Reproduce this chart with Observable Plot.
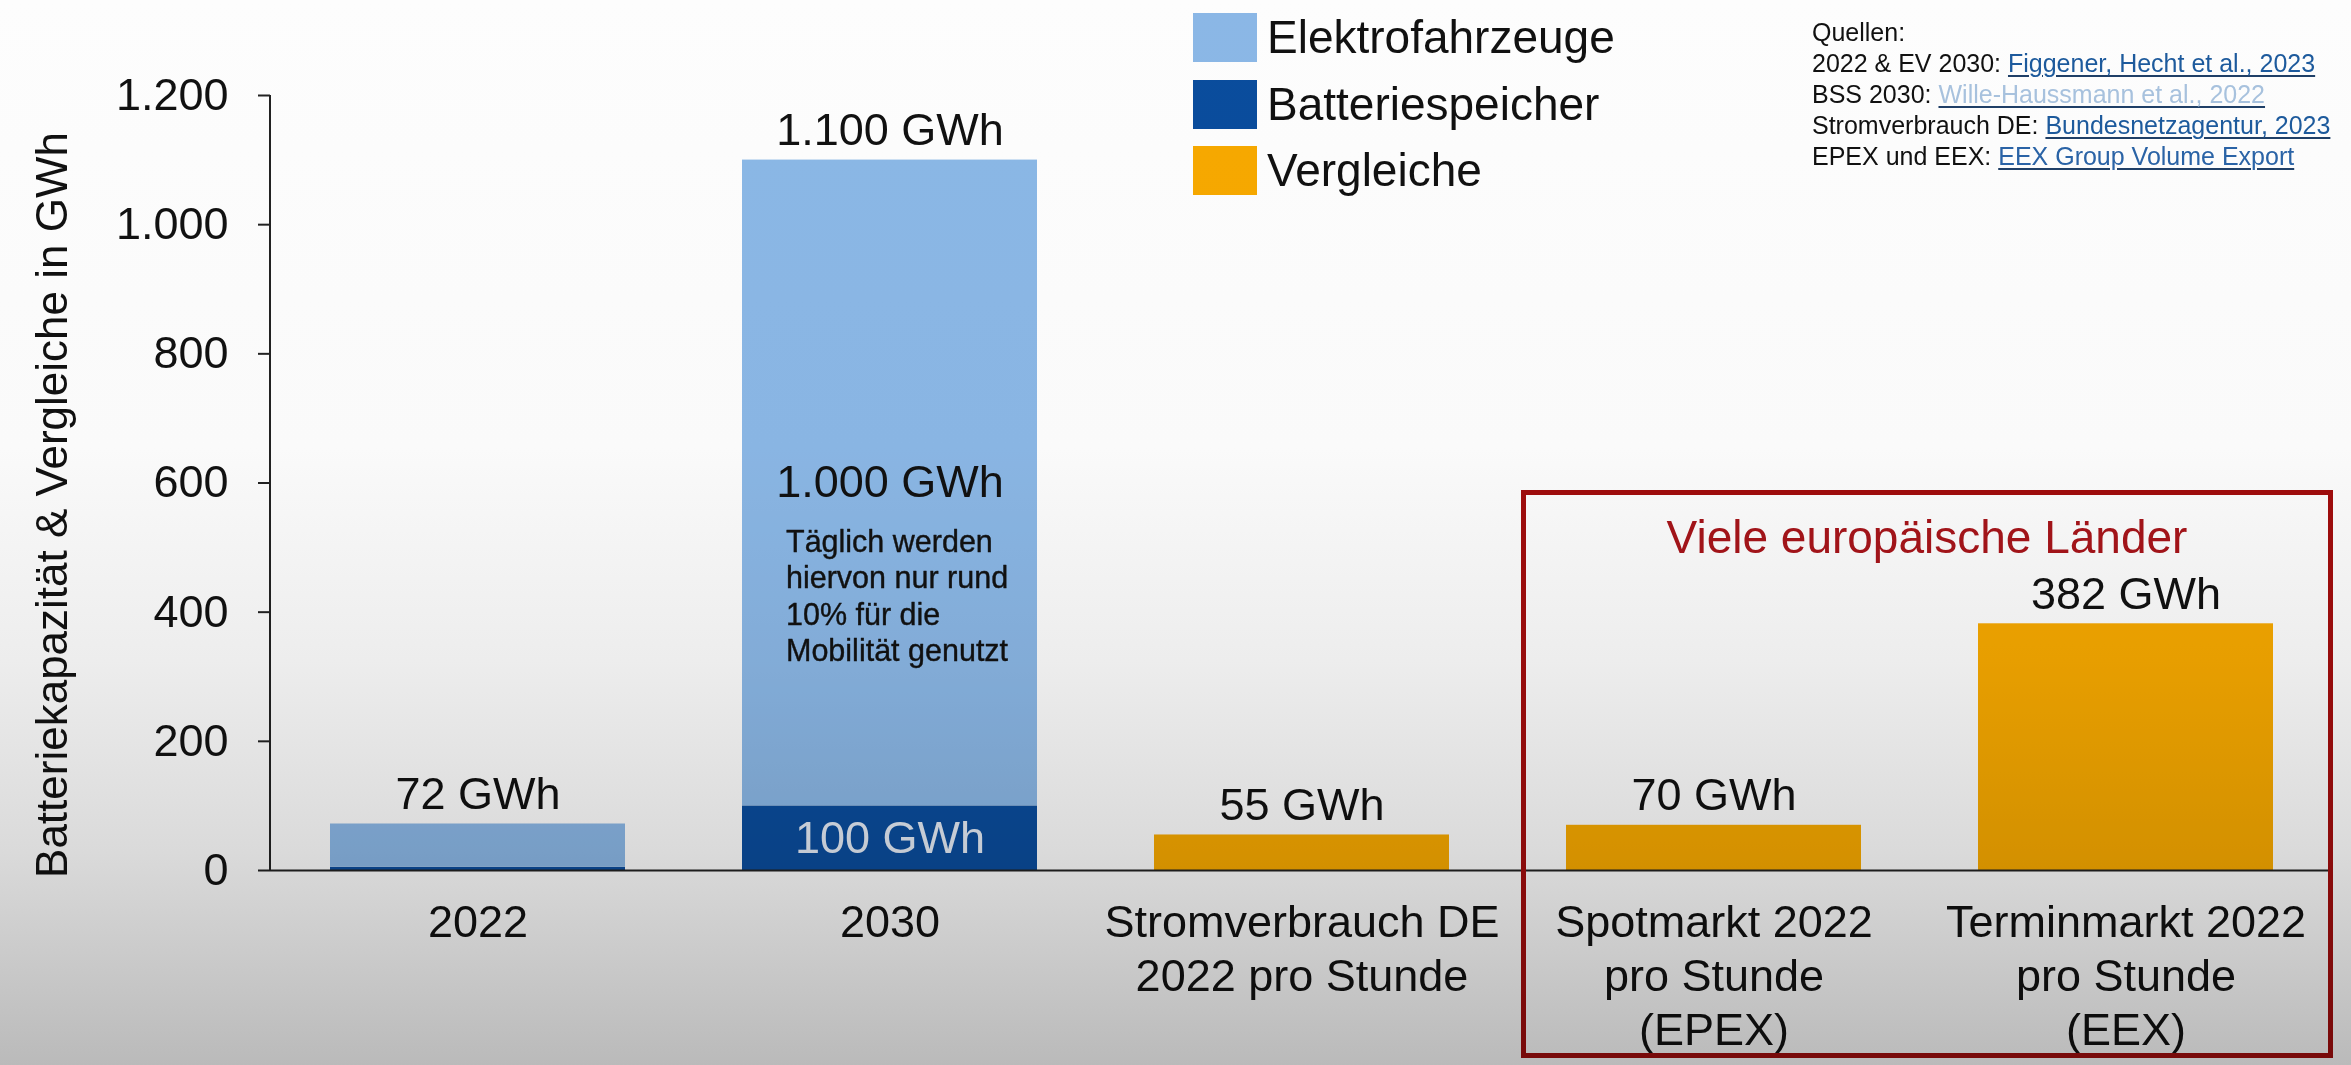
<!DOCTYPE html>
<html lang="de">
<head>
<meta charset="utf-8">
<script src="https://cdn.jsdelivr.net/npm/d3@7"></script>
<script src="https://cdn.jsdelivr.net/npm/@observablehq/plot@0.6"></script>
<style>
  html, body { margin: 0; padding: 0; background: #ffffff; }
  #page { position: relative; width: 2351px; height: 1065px; overflow: hidden; background: #ffffff;
          font-family: "Liberation Sans", Arial, Helvetica, sans-serif; color: #111; }
  #chart svg { position: absolute; left: 0; top: 0; }
  #legend { position: absolute; left: 1193px; top: 13px; }
  .lg-row { display: flex; align-items: center; height: 49px; margin-bottom: 17.5px; }
  .lg-sw { width: 64px; height: 49px; margin-right: 10px; }
  .lg-tx { font-size: 46px; line-height: 49px; color: #111; }
  #sources { position: absolute; left: 1812px; top: 17px; font-size: 25px; line-height: 31px; color: #111; }
  #sources a { text-decoration: underline; text-decoration-thickness: 2px; text-underline-offset: 3px;
               text-decoration-color: #1f3f68; }
  #box { position: absolute; left: 1521px; top: 490px; width: 812px; height: 568px; box-sizing: border-box;
         border: 5px solid #a30d0d; }
  #box .title { position: absolute; left: 0; right: 0; top: 15px; text-align: center; font-size: 46px;
                color: #a8141a; line-height: 54px; }
  #shade { position: absolute; left: 0; top: 0; width: 2351px; height: 1065px; pointer-events: none;
           mix-blend-mode: multiply;
           background: linear-gradient(to bottom, #fdfdfd 0%, #fafafa 42%, #ededed 62%, #dadada 80%, #bababa 100%); }
</style>
</head>
<body>
<div id="page">
  <div id="chart"></div>
  <div id="legend"></div>
  <div id="sources"></div>
  <div id="box"><div class="title"></div></div>
  <div id="shade"></div>
</div>
<script>
// ---------- data ----------
const categories = ["2022", "2030", "Stromverbrauch", "Spotmarkt", "Terminmarkt"];
const tickLabels = ["2022", "2030", "Stromverbrauch DE\n2022 pro Stunde", "Spotmarkt 2022\npro Stunde\n(EPEX)", "Terminmarkt 2022\npro Stunde\n(EEX)"];
const seriesNames = ["Elektrofahrzeuge", "Batteriespeicher", "Vergleiche"];
const seriesColors = ["#8cb9e8", "#0a4d9e", "#f9aa00"];
const batteriespeicher = [5, 100, 0, 0, 0];
const elektrofahrzeuge = [67, 1000, 0, 0, 0];
const vergleiche = [0, 0, 55, 70, 382];
const yTicks = [0, 200, 400, 600, 800, 1000, 1200];
const yTitle = "Batteriekapazität & Vergleiche in GWh";
const noteText = "Täglich werden\nhiervon nur rund\n10% für die\nMobilität genutzt";
const boxTitle = "Viele europäische Länder";
const sourceLabels = ["2022 & EV 2030: ", "BSS 2030: ", "Stromverbrauch DE: ", "EPEX und EEX: "];
const sourceLinks = ["Figgener, Hecht et al., 2023", "Wille-Haussmann et al., 2022", "Bundesnetzagentur, 2023", "EEX Group Volume Export"];
const sourceColors = ["#1d5b9e", "#a9c4e0", "#1d5b9e", "#2a64a8"];

// ---------- derived tables ----------
const fmt = d3.formatLocale({decimal: ",", thousands: ".", grouping: [3], currency: ["", " €"]}).format(",d");
const stackOrder = [["Batteriespeicher", batteriespeicher], ["Elektrofahrzeuge", elektrofahrzeuge], ["Vergleiche", vergleiche]];
const rows = [];
for (const [name, vals] of stackOrder) {
  categories.forEach((c, i) => { if (vals[i] > 0) rows.push({cat: c, series: name, value: vals[i]}); });
}
const totals = categories.map((c, i) => ({cat: c, total: batteriespeicher[i] + elektrofahrzeuge[i] + vergleiche[i]}));
const i30 = categories.indexOf("2030");
const inside = [
  {cat: "2030", y: batteriespeicher[i30] + elektrofahrzeuge[i30] / 2, text: fmt(elektrofahrzeuge[i30]) + " GWh", fill: "#111111"},
  {cat: "2030", y: batteriespeicher[i30] / 2, text: fmt(batteriespeicher[i30]) + " GWh", fill: "#e6edf7"}
];
const labelOf = new Map(categories.map((c, i) => [c, tickLabels[i]]));

// custom axis line (vertical)
function yAxisLine(index, scales, values, dims) {
  const ns = "http://www.w3.org/2000/svg";
  const l = document.createElementNS(ns, "line");
  l.setAttribute("x1", dims.marginLeft); l.setAttribute("x2", dims.marginLeft);
  l.setAttribute("y1", dims.marginTop); l.setAttribute("y2", dims.height - dims.marginBottom);
  l.setAttribute("stroke", "#222"); l.setAttribute("stroke-width", 2);
  return l;
}

const plot = Plot.plot({
  width: 2351,
  height: 1065,
  marginLeft: 270,
  marginRight: 18,
  marginTop: 95,
  marginBottom: 195,
  style: {fontFamily: "'Liberation Sans', Arial, Helvetica, sans-serif", fontSize: "45px", background: "transparent", color: "#111"},
  x: {domain: categories, paddingInner: 0.285, paddingOuter: 0.1425, axis: null},
  y: {domain: [0, 1200], axis: null},
  color: {domain: seriesNames, range: seriesColors},
  marks: [
    Plot.barY(rows, {x: "cat", y: "value", fill: "series"}),
    Plot.ruleY([0], {stroke: "#222", strokeWidth: 2}),
    yAxisLine,
    Plot.axisY({ticks: yTicks, tickFormat: fmt, tickSize: 12, tickPadding: 30, fontSize: 45, stroke: "#222", strokeWidth: 2, label: null}),
    Plot.text([yTitle], {frameAnchor: "left", textAnchor: "middle", lineAnchor: "middle", rotate: -90, dx: -218, dy: 22, fontSize: 44, fill: "#111"}),
    Plot.text(categories, {x: d => d, frameAnchor: "bottom", lineAnchor: "top", dy: 28, lineHeight: 1.2, text: d => labelOf.get(d), fontSize: 45, fill: "#111"}),
    Plot.text(totals, {x: "cat", y: "total", text: d => fmt(d.total) + " GWh", lineAnchor: "bottom", dy: -15, fontSize: 45, fill: "#111"}),
    Plot.text(inside, {x: "cat", y: "y", text: "text", fill: "fill", fontSize: 45}),
    Plot.text([noteText], {x: () => "2030", y: () => 534, textAnchor: "start", lineAnchor: "top", dx: -104, fontSize: 30.5, lineHeight: 1.2, fill: "#111", stroke: "#111", strokeWidth: 0.4})
  ]
});
document.getElementById("chart").appendChild(plot);

// legend
const lg = document.getElementById("legend");
seriesNames.forEach((n, i) => {
  const r = document.createElement("div"); r.className = "lg-row";
  const s = document.createElement("div"); s.className = "lg-sw"; s.style.background = seriesColors[i];
  const t = document.createElement("div"); t.className = "lg-tx"; t.textContent = n;
  r.appendChild(s); r.appendChild(t); lg.appendChild(r);
});

// sources
const src = document.getElementById("sources");
const head = document.createElement("div"); head.textContent = "Quellen:"; src.appendChild(head);
sourceLabels.forEach((s, i) => {
  const d = document.createElement("div");
  d.appendChild(document.createTextNode(s));
  const a = document.createElement("a"); a.textContent = sourceLinks[i]; a.style.color = sourceColors[i];
  d.appendChild(a); src.appendChild(d);
});

document.querySelector("#box .title").textContent = boxTitle;
</script>
</body>
</html>
